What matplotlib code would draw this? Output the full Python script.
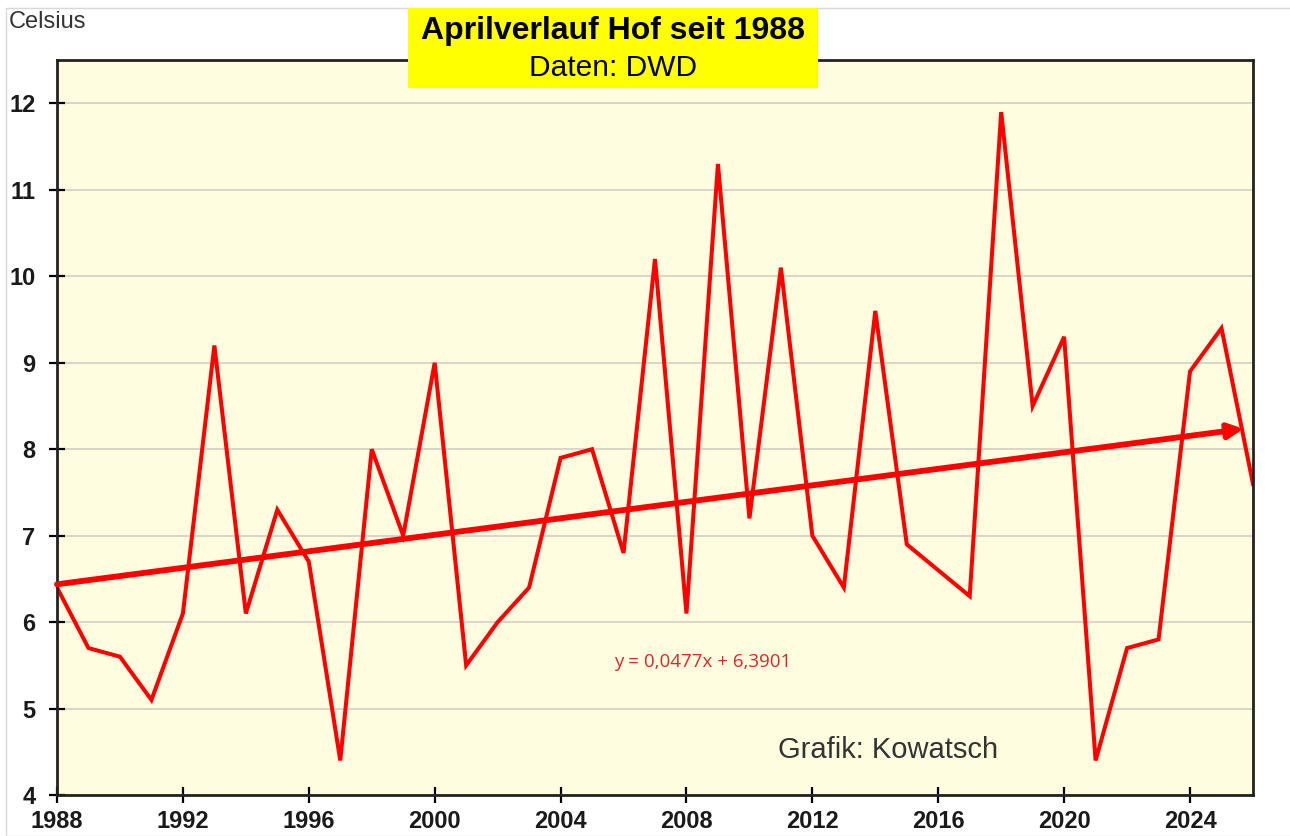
import matplotlib.pyplot as plt
from matplotlib.patches import Rectangle

plt.rcParams['font.family'] = ['Liberation Sans', 'DejaVu Sans']

# April-Mittel Hof (DWD)
jahre = list(range(1988, 2027))
temp = [6.4, 5.7, 5.6, 5.1, 6.1, 9.2, 6.1, 7.3, 6.7, 4.4,
        8.0, 7.0, 9.0, 5.5, 6.0, 6.4, 7.9, 8.0, 6.8, 10.2,
        6.1, 11.3, 7.2, 10.1, 7.0, 6.4, 9.6, 6.9, 6.6, 6.3,
        11.9, 8.5, 9.3, 4.4, 5.7, 5.8, 8.9, 9.4, 7.6]

# Trendlinie aus Excel: y = 0,0477x + 6,3901 (x = 1 für 1988)
steigung = 0.0477
achsenabschnitt = 6.3901
trend_ende = 2025.7

xticks = list(range(1988, 2025, 4))
yticks = list(range(4, 13))

fig = plt.figure(figsize=(12.9, 8.36), dpi=100)
ax = fig.add_axes([0.0442, 0.049, 0.9271, 0.879])
ax.set_facecolor('#fffde0')

ax.set_xlim(1988, 2026)
ax.set_ylim(4, 12.5)
ax.set_xticks(xticks)
ax.set_yticks(yticks)
ax.yaxis.grid(True, color='#cfcfc4', lw=1.2)
ax.set_axisbelow(True)
ax.tick_params(direction='inout', length=11, width=1.6, labelsize=17)
ax.tick_params(axis='x', pad=5)
ax.tick_params(axis='y', pad=10)
for lab in ax.get_xticklabels() + ax.get_yticklabels():
    lab.set_fontweight('bold')
    lab.set_color('#1a1a1a')
for sp in ax.spines.values():
    sp.set_linewidth(2)
    sp.set_color('#222222')

ax.plot(jahre, temp, color='#ff0000', lw=2.9, solid_joinstyle='miter', clip_on=True)

x0 = jahre[0]
y0 = steigung * 1 + achsenabschnitt
y1 = steigung * (trend_ende - x0 + 1) + achsenabschnitt
ax.annotate('', xy=(trend_ende, y1), xytext=(x0, y0),
            arrowprops=dict(arrowstyle='-|>', lw=4.2, color='#ff0000',
                            mutation_scale=22, shrinkA=0, shrinkB=0))

ax.text(2005.7, 5.54, 'y = 0,0477x + 6,3901', color='#d42a2a', fontsize=13.5,
        va='center', family=['Open Sans', 'DejaVu Sans'])
ax.text(2010.9, 4.52, 'Grafik: Kowatsch', color='#333333', fontsize=21,
        va='center')

# Titelkasten
fig.patches.append(Rectangle((408 / 1290, 1 - 88 / 836), 410 / 1290, 80 / 836,
                             transform=fig.transFigure, facecolor='#ffff00',
                             edgecolor='none', zorder=5))
fig.text(613 / 1290, 1 - 31 / 836, 'Aprilverlauf Hof seit 1988', ha='center',
         va='center', fontsize=23, fontweight='bold', zorder=6)
fig.text(613 / 1290, 1 - 68 / 836, 'Daten: DWD', ha='center', va='center',
         fontsize=21.5, zorder=6)
fig.text(9 / 1290, 1 - 22 / 836, 'Celsius', ha='left', va='center',
         fontsize=17, color='#333333')

# dünner Rahmen um das Bild
fig.patches.append(Rectangle((6 / 1290, 0), 1, 1 - 8 / 836, transform=fig.transFigure,
                             facecolor='none', edgecolor='#d8d8d8', lw=1))

fig.savefig('out.png', dpi=100)
